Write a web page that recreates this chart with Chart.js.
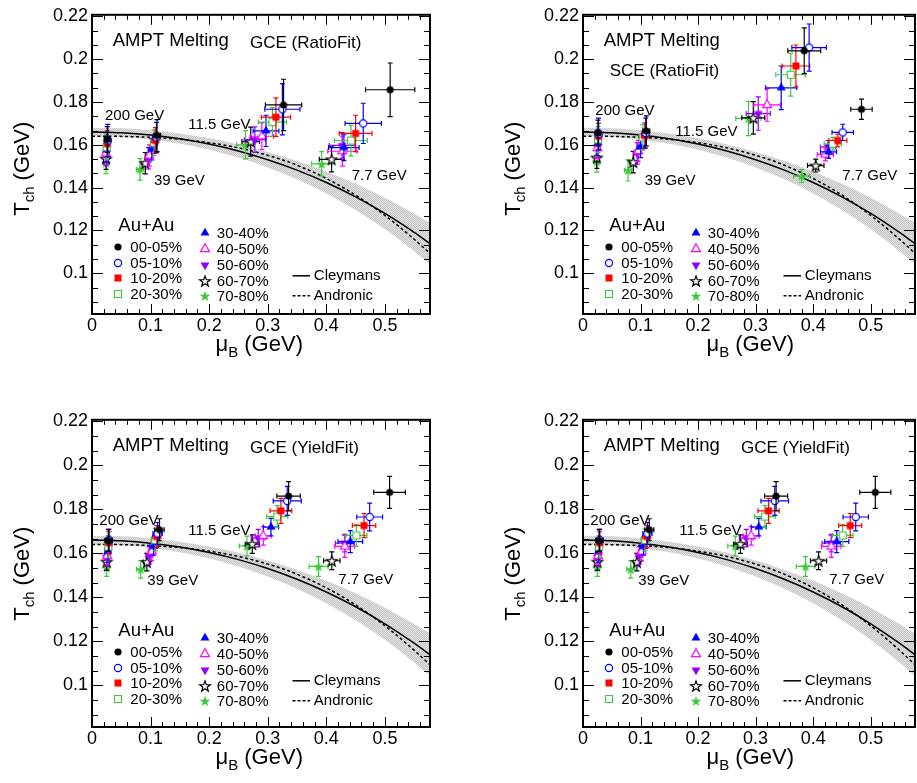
<!DOCTYPE html>
<html><head><meta charset="utf-8">
<script src="https://cdn.jsdelivr.net/npm/chart.js@4/dist/chart.umd.min.js"></script>
<style>
html,body{margin:0;padding:0;background:#fff;overflow:hidden;width:917px;height:783px;}
canvas{position:absolute;}
</style></head><body>
<canvas id="c0" width="458" height="392" style="left:0;top:0;width:458px;height:392px"></canvas>
<canvas id="c1" width="463" height="392" style="left:458px;top:0;width:463px;height:392px"></canvas>
<canvas id="c2" width="458" height="378" style="left:0;top:405px;width:458px;height:378px"></canvas>
<canvas id="c3" width="463" height="378" style="left:458px;top:405px;width:463px;height:378px"></canvas>
<script>
// ---------------- DATA ----------------
const energyLabels = ['200 GeV', '39 GeV', '11.5 GeV', '7.7 GeV'];
const centralityLabels = ['00-05%', '05-10%', '10-20%', '20-30%', '30-40%', '40-50%', '50-60%', '60-70%', '70-80%'];
const xTickValues = [0, 0.1, 0.2, 0.3, 0.4, 0.5];
const xTickLabels = ['0', '0.1', '0.2', '0.3', '0.4', '0.5'];
const yTickValues = [0.1, 0.12, 0.14, 0.16, 0.18, 0.2, 0.22];
const yTickLabels = ['0.1', '0.12', '0.14', '0.16', '0.18', '0.2', '0.22'];

// Cleymans curve and its uncertainty band
const cleymansMuB = [0, 0.05, 0.1, 0.15, 0.2, 0.25, 0.3, 0.35, 0.4, 0.45, 0.5, 0.55, 0.577];
const cleymansT   = [0.1660, 0.16565, 0.16460, 0.16285, 0.16036, 0.15711, 0.15306, 0.14818, 0.14240, 0.13568, 0.12794, 0.11910, 0.11385];
const bandUpperT  = [0.1680, 0.16769, 0.16677, 0.16522, 0.16303, 0.16019, 0.15667, 0.15245, 0.14750, 0.14178, 0.13525, 0.12786, 0.12351];
const bandLowerT  = [0.1640, 0.16361, 0.16244, 0.16048, 0.15768, 0.15402, 0.14945, 0.14390, 0.13731, 0.12958, 0.12063, 0.11034, 0.10420];
// Andronic curve
const andronicMuB = [0, 0.0224, 0.0691, 0.1072, 0.1494, 0.1939, 0.2463, 0.3038, 0.3376, 0.3646, 0.3798, 0.4069, 0.4340, 0.4558, 0.4797, 0.5064, 0.5239, 0.5362, 0.5559, 0.5697, 0.5770];
const andronicT   = [0.1640, 0.1640, 0.1638, 0.1634, 0.1626, 0.1612, 0.1588, 0.1548, 0.1518, 0.1488, 0.1470, 0.1433, 0.1392, 0.1355, 0.1311, 0.1257, 0.1219, 0.1191, 0.1145, 0.1111, 0.1093];

// rows: centralities; columns: 200, 39, 11.5, 7.7 GeV
// GCE (RatioFit)
const muB_GCE_Ratio = [
  [0.026, 0.111, 0.327, 0.509],
  [0.027, 0.110, 0.325, 0.463],
  [0.026, 0.108, 0.314, 0.450],
  [0.025, 0.106, 0.308, 0.442],
  [0.025, 0.102, 0.297, 0.430],
  [0.024, 0.098, 0.290, 0.4275],
  [0.024, 0.0965, 0.278, 0.427],
  [0.024, 0.091, 0.271, 0.409],
  [0.024, 0.082, 0.262, 0.392]];
const T_GCE_Ratio = [
  [0.1625, 0.1643, 0.1786, 0.1857],
  [0.1620, 0.1635, 0.1766, 0.1700],
  [0.1605, 0.1620, 0.1729, 0.1653],
  [0.1590, 0.1610, 0.1706, 0.1620],
  [0.1580, 0.1579, 0.1665, 0.1587],
  [0.1560, 0.1550, 0.1640, 0.1570],
  [0.1555, 0.1537, 0.1624, 0.1597],
  [0.1535, 0.1514, 0.1615, 0.1532],
  [0.1515, 0.1485, 0.1600, 0.1511]];
const muBErr_GCE_Ratio = [
  [0.005, 0.006, 0.031, 0.042],
  [0.005, 0.006, 0.030, 0.031],
  [0.004, 0.006, 0.025, 0.028],
  [0.004, 0.006, 0.024, 0.028],
  [0.004, 0.006, 0.022, 0.026],
  [0.004, 0.005, 0.020, 0.025],
  [0.004, 0.005, 0.018, 0.022],
  [0.004, 0.006, 0.015, 0.021],
  [0.004, 0.006, 0.015, 0.017]];
const TErr_GCE_Ratio = [
  [0.006, 0.0075, 0.012, 0.0125],
  [0.0075, 0.007, 0.012, 0.0094],
  [0.006, 0.006, 0.009, 0.0085],
  [0.006, 0.006, 0.0068, 0.0072],
  [0.006, 0.005, 0.0073, 0.006],
  [0.005, 0.005, 0.0062, 0.007],
  [0.005, 0.005, 0.006, 0.006],
  [0.005, 0.005, 0.0068, 0.0058],
  [0.005, 0.005, 0.0066, 0.0057]];

// SCE (RatioFit)
const muB_SCE_Ratio = [
  [0.026, 0.110, 0.3845, 0.484],
  [0.027, 0.109, 0.393, 0.4514],
  [0.027, 0.1074, 0.370, 0.4428],
  [0.026, 0.104, 0.361, 0.4342],
  [0.026, 0.100, 0.3445, 0.4268],
  [0.025, 0.096, 0.320, 0.4211],
  [0.025, 0.0943, 0.3046, 0.4257],
  [0.024, 0.0874, 0.296, 0.4045],
  [0.024, 0.0783, 0.2875, 0.380]];
const T_SCE_Ratio = [
  [0.1655, 0.1665, 0.2039, 0.1766],
  [0.1650, 0.1655, 0.2054, 0.1658],
  [0.1640, 0.1643, 0.1968, 0.1620],
  [0.1625, 0.1635, 0.1927, 0.1605],
  [0.1610, 0.1590, 0.1866, 0.1567],
  [0.1585, 0.1571, 0.1786, 0.1555],
  [0.1590, 0.1560, 0.1746, 0.1590],
  [0.1540, 0.1519, 0.1726, 0.1503],
  [0.1522, 0.1481, 0.1723, 0.1454]];
const muBErr_SCE_Ratio = [
  [0.005, 0.006, 0.0286, 0.0186],
  [0.005, 0.006, 0.030, 0.0186],
  [0.004, 0.006, 0.024, 0.0157],
  [0.004, 0.006, 0.026, 0.015],
  [0.004, 0.006, 0.027, 0.014],
  [0.004, 0.005, 0.023, 0.014],
  [0.004, 0.005, 0.021, 0.013],
  [0.004, 0.006, 0.020, 0.0143],
  [0.004, 0.006, 0.022, 0.014]];
const TErr_SCE_Ratio = [
  [0.006, 0.007, 0.0107, 0.0047],
  [0.0075, 0.007, 0.011, 0.0038],
  [0.006, 0.006, 0.0098, 0.003],
  [0.006, 0.006, 0.010, 0.003],
  [0.006, 0.005, 0.0102, 0.003],
  [0.005, 0.005, 0.0076, 0.003],
  [0.005, 0.005, 0.0078, 0.003],
  [0.005, 0.005, 0.0076, 0.003],
  [0.005, 0.005, 0.008, 0.003]];

// GCE (YieldFit)
const muB_GCE_Yield = [
  [0.028, 0.1152, 0.3356, 0.508],
  [0.029, 0.112, 0.3333, 0.474],
  [0.029, 0.1107, 0.3225, 0.4644],
  [0.028, 0.108, 0.3162, 0.4514],
  [0.027, 0.105, 0.3055, 0.441],
  [0.026, 0.102, 0.2924, 0.4315],
  [0.025, 0.098, 0.2838, 0.4315],
  [0.025, 0.0937, 0.2736, 0.4094],
  [0.025, 0.0830, 0.2646, 0.3867]];
const T_GCE_Yield = [
  [0.1658, 0.1707, 0.1860, 0.1877],
  [0.1660, 0.1690, 0.1838, 0.1765],
  [0.1648, 0.1676, 0.1793, 0.1726],
  [0.1630, 0.1661, 0.1767, 0.1681],
  [0.1608, 0.1631, 0.1719, 0.1653],
  [0.1588, 0.1608, 0.1679, 0.1631],
  [0.1582, 0.1590, 0.1669, 0.1646],
  [0.1562, 0.1560, 0.1642, 0.1566],
  [0.1535, 0.1527, 0.1633, 0.1540]];
const muBErr_GCE_Yield = [
  [0.006, 0.008, 0.020, 0.027],
  [0.006, 0.008, 0.024, 0.022],
  [0.005, 0.007, 0.0185, 0.020],
  [0.005, 0.007, 0.018, 0.018],
  [0.005, 0.006, 0.013, 0.021],
  [0.005, 0.006, 0.0135, 0.017],
  [0.004, 0.006, 0.012, 0.016],
  [0.004, 0.006, 0.012, 0.014],
  [0.004, 0.007, 0.013, 0.016]];
const TErr_GCE_Yield = [
  [0.005, 0.005, 0.0066, 0.0073],
  [0.005, 0.005, 0.0066, 0.0063],
  [0.005, 0.005, 0.0057, 0.0055],
  [0.005, 0.005, 0.005, 0.005],
  [0.005, 0.004, 0.004, 0.005],
  [0.004, 0.004, 0.0042, 0.005],
  [0.004, 0.004, 0.004, 0.004],
  [0.004, 0.004, 0.0042, 0.004],
  [0.004, 0.004, 0.0045, 0.0045]];

// ---------------- STYLE ----------------
const FONT = "'Liberation Sans', Arial, Helvetica, sans-serif";
Chart.defaults.font.family = FONT;
const X_MIN = 0, X_MAX = 0.577, Y_MIN = 0.081, Y_MAX = 0.2207;

const markerDefs = [
  {shape: 'circle', color: '#000000', filled: true},
  {shape: 'circle', color: '#0000ff', filled: false},
  {shape: 'square', color: '#ff0000', filled: true},
  {shape: 'square', color: '#3ec83e', filled: false},
  {shape: 'triUp', color: '#0000ff', filled: true},
  {shape: 'triUp', color: '#ff00ff', filled: false},
  {shape: 'triDown', color: '#9400ff', filled: true},
  {shape: 'star', color: '#000000', filled: false},
  {shape: 'star', color: '#3ec83e', filled: true}
];

function makeMarker(def) {
  const S = 16, c = document.createElement('canvas');
  c.width = S; c.height = S;
  const g = c.getContext('2d'), m = S / 2;
  g.beginPath();
  if (def.shape === 'circle') {
    g.arc(m, m, 3.6, 0, Math.PI * 2);
  } else if (def.shape === 'square') {
    g.rect(m - 3.5, m - 3.5, 7, 7);
  } else if (def.shape === 'triUp' || def.shape === 'triDown') {
    const r = 5.2, s = def.shape === 'triUp' ? 1 : -1;
    g.moveTo(m, m - s * r);
    g.lineTo(m + r * 0.866, m + s * r * 0.5);
    g.lineTo(m - r * 0.866, m + s * r * 0.5);
    g.closePath();
  } else {
    for (let i = 0; i < 10; i++) {
      const ang = -Math.PI / 2 + i * Math.PI / 5;
      const rr = (i % 2) ? 2.3 : 5.6;
      const px = m + rr * Math.cos(ang), py = m + 0.5 + rr * Math.sin(ang);
      if (i === 0) g.moveTo(px, py); else g.lineTo(px, py);
    }
    g.closePath();
  }
  if (def.filled) {
    g.fillStyle = def.color; g.fill();
  } else {
    g.fillStyle = '#ffffff'; g.fill();
    g.lineWidth = 1.2; g.strokeStyle = def.color; g.stroke();
  }
  return c;
}
const markers = markerDefs.map(makeMarker);

function makeBandPattern() {
  const c = document.createElement('canvas');
  c.width = 2; c.height = 2;
  const g = c.getContext('2d');
  g.fillStyle = '#e3e3e3'; g.fillRect(0, 0, 2, 2);
  g.fillStyle = '#c4c4c4'; g.fillRect(0, 0, 1, 1); g.fillRect(1, 1, 1, 1);
  return g.createPattern(c, 'repeat');
}

// ---------------- PLUGINS ----------------
const errorBarPlugin = {
  id: 'errbars',
  beforeDatasetDraw(chart, args) {
    const ds = chart.data.datasets[args.index];
    if (!ds.errColor) return;
    const ctx = chart.ctx, a = chart.chartArea, xs = chart.scales.x, ys = chart.scales.y;
    ctx.save();
    ctx.beginPath(); ctx.rect(a.left, a.top, a.right - a.left, a.bottom - a.top); ctx.clip();
    ctx.strokeStyle = ds.errColor; ctx.lineWidth = 1.2;
    const cap = 2.5;
    ctx.beginPath();
    ds.data.forEach(p => {
      const px = xs.getPixelForValue(p.x), py = ys.getPixelForValue(p.y);
      const x1 = xs.getPixelForValue(p.x - p.xe), x2 = xs.getPixelForValue(p.x + p.xe);
      const y1 = ys.getPixelForValue(p.y - p.ye), y2 = ys.getPixelForValue(p.y + p.ye);
      ctx.moveTo(x1, py); ctx.lineTo(x2, py);
      ctx.moveTo(px, y1); ctx.lineTo(px, y2);
      ctx.moveTo(x1, py - cap); ctx.lineTo(x1, py + cap);
      ctx.moveTo(x2, py - cap); ctx.lineTo(x2, py + cap);
      ctx.moveTo(px - cap, y1); ctx.lineTo(px + cap, y1);
      ctx.moveTo(px - cap, y2); ctx.lineTo(px + cap, y2);
    });
    ctx.stroke();
    ctx.restore();
  }
};

function makeDeco(p) {
  return {
    id: 'deco',
    afterDraw(chart) {
      const ctx = chart.ctx, a = chart.chartArea, xs = chart.scales.x, ys = chart.scales.y;
      ctx.save();
      // inner tick marks on all sides
      ctx.strokeStyle = '#000'; ctx.lineWidth = 1;
      ctx.beginPath();
      for (let i = 0; i * 0.02 <= X_MAX + 1e-9; i++) {
        const px = Math.round(xs.getPixelForValue(i * 0.02)) + 0.5;
        const L = (i % 5 === 0) ? 10 : 5;
        ctx.moveTo(px, a.bottom); ctx.lineTo(px, a.bottom - L);
        ctx.moveTo(px, a.top); ctx.lineTo(px, a.top + L);
      }
      const yStep = 0.02 / 3;
      for (let k = Math.ceil((Y_MIN - 0.1) / yStep - 1e-6); 0.1 + k * yStep <= Y_MAX + 1e-9; k++) {
        const py = Math.round(ys.getPixelForValue(0.1 + k * yStep)) + 0.5;
        const L = (k % 3 === 0) ? 11 : 6;
        ctx.moveTo(a.left, py); ctx.lineTo(a.left + L, py);
        ctx.moveTo(a.right, py); ctx.lineTo(a.right - L, py);
      }
      ctx.stroke();
      // frame
      ctx.lineWidth = 2;
      ctx.strokeRect(a.left, a.top, a.right - a.left, a.bottom - a.top);

      // texts
      ctx.fillStyle = '#000'; ctx.textAlign = 'left'; ctx.textBaseline = 'alphabetic';
      ctx.font = '18.5px ' + FONT;
      ctx.fillText('AMPT Melting', a.left + 20.7, a.top + 31.5);
      ctx.font = '17px ' + FONT;
      ctx.fillText(p.fitLabel, a.left + p.fitPos[0], a.top + p.fitPos[1]);
      ctx.font = '15px ' + FONT;
      energyLabels.forEach((t, j) => ctx.fillText(t, a.left + p.energyPos[j][0], a.top + p.energyPos[j][1]));

      // legend
      ctx.font = '18.5px ' + FONT;
      ctx.fillText('Au+Au', a.left + 26.3, a.top + 216);
      ctx.font = '15px ' + FONT; ctx.textBaseline = 'middle';
      const leftRows = [232, 248, 263.5, 279], rightRows = [218.5, 234.5, 250, 266, 281.5];
      centralityLabels.forEach((t, i) => {
        const left = i < 4;
        const ry = a.top + (left ? leftRows[i] : rightRows[i - 4]);
        const mx = a.left + (left ? 25.5 : 112.5);
        ctx.drawImage(markers[i], Math.round(mx - 8), Math.round(ry - 8));
        ctx.fillText(t, a.left + (left ? 38.3 : 124.8), ry + 1);
      });
      ctx.lineWidth = 1.5; ctx.strokeStyle = '#000';
      ctx.beginPath(); ctx.moveTo(a.left + 200.5, a.top + 261); ctx.lineTo(a.left + 218, a.top + 261); ctx.stroke();
      ctx.setLineDash([3, 2]);
      ctx.beginPath(); ctx.moveTo(a.left + 200.5, a.top + 281); ctx.lineTo(a.left + 218, a.top + 281); ctx.stroke();
      ctx.setLineDash([]);
      ctx.fillText('Cleymans', a.left + 221.8, a.top + 261);
      ctx.fillText('Andronic', a.left + 221.8, a.top + 281);

      // axis titles
      ctx.textBaseline = 'alphabetic';
      let x0 = a.left + 123.5, y0 = a.bottom + 37;
      ctx.font = '22px ' + FONT; ctx.fillText('\u03BC', x0, y0);
      let w = ctx.measureText('\u03BC').width;
      ctx.font = '15px ' + FONT; ctx.fillText('B', x0 + w, y0 + 6);
      w += ctx.measureText('B').width;
      ctx.font = '22px ' + FONT; ctx.fillText(' (GeV)', x0 + w, y0);

      ctx.save();
      ctx.translate(a.left - 63.5, a.top + 201);
      ctx.rotate(-Math.PI / 2);
      ctx.font = '22px ' + FONT; ctx.fillText('T', 0, 0);
      w = ctx.measureText('T').width;
      ctx.font = '15px ' + FONT; ctx.fillText('ch', w, 5);
      w += ctx.measureText('ch').width;
      ctx.font = '22px ' + FONT; ctx.fillText(' (GeV)', w, 0);
      ctx.restore();

      ctx.restore();
    }
  };
}

// ---------------- PANELS ----------------
const panels = [
  {id: 'c0', W: 458, H: 392, area: {l: 92, t: 6, r: 430, b: 314},
   fitLabel: 'GCE (RatioFit)', fitPos: [158, 33],
   energyPos: [[13, 105], [62, 170], [96.3, 114], [259.7, 165]],
   mu: muB_GCE_Ratio, T: T_GCE_Ratio, muErr: muBErr_GCE_Ratio, TErr: TErr_GCE_Ratio},
  {id: 'c1', W: 463, H: 392, area: {l: 125, t: 6, r: 463, b: 314},
   fitLabel: 'SCE (RatioFit)', fitPos: [26.7, 60.7],
   energyPos: [[12.3, 100], [61.7, 170], [92.3, 121.3], [259.3, 165]],
   mu: muB_SCE_Ratio, T: T_SCE_Ratio, muErr: muBErr_SCE_Ratio, TErr: TErr_SCE_Ratio},
  {id: 'c2', W: 458, H: 378, area: {l: 92, t: 14, r: 430, b: 322},
   fitLabel: 'GCE (YieldFit)', fitPos: [158, 32.7],
   energyPos: [[7.3, 105.3], [55.3, 165], [96.3, 115.3], [246.3, 164.3]],
   mu: muB_GCE_Yield, T: T_GCE_Yield, muErr: muBErr_GCE_Yield, TErr: TErr_GCE_Yield},
  {id: 'c3', W: 463, H: 378, area: {l: 125, t: 14, r: 463, b: 322},
   fitLabel: 'GCE (YieldFit)', fitPos: [158, 32.7],
   energyPos: [[7.3, 105.3], [55.3, 165], [96.3, 115.3], [246.3, 164.3]],
   mu: muB_GCE_Yield, T: T_GCE_Yield, muErr: muBErr_GCE_Yield, TErr: TErr_GCE_Yield}
];

panels.forEach(p => {
  const canvas = document.getElementById(p.id);
  const bandPattern = makeBandPattern();
  const pointSets = centralityLabels.map((lab, i) => ({
    label: lab,
    data: energyLabels.map((e, j) => ({x: p.mu[i][j], y: p.T[i][j], xe: p.muErr[i][j], ye: p.TErr[i][j]})),
    showLine: false,
    pointStyle: markers[i],
    pointRadius: 5,
    pointHoverRadius: 5,
    errColor: markerDefs[i].color,
    order: i
  }));
  const curveSets = [
    {label: 'band upper', data: cleymansMuB.map((x, k) => ({x: x, y: bandUpperT[k]})),
     showLine: true, pointRadius: 0, borderWidth: 0, borderColor: 'rgba(0,0,0,0)',
     backgroundColor: bandPattern, fill: '+1', cubicInterpolationMode: 'monotone', order: 100},
    {label: 'band lower', data: cleymansMuB.map((x, k) => ({x: x, y: bandLowerT[k]})),
     showLine: true, pointRadius: 0, borderWidth: 0, borderColor: 'rgba(0,0,0,0)',
     fill: false, cubicInterpolationMode: 'monotone', order: 99},
    {label: 'Cleymans', data: cleymansMuB.map((x, k) => ({x: x, y: cleymansT[k]})),
     showLine: true, pointRadius: 0, borderWidth: 1.5, borderColor: '#000',
     fill: false, cubicInterpolationMode: 'monotone', order: 50},
    {label: 'Andronic', data: andronicMuB.map((x, k) => ({x: x, y: andronicT[k]})),
     showLine: true, pointRadius: 0, borderWidth: 1.5, borderColor: '#000', borderDash: [3, 2.5],
     fill: false, cubicInterpolationMode: 'monotone', order: 51}
  ];
  new Chart(canvas, {
    type: 'line',
    data: {datasets: pointSets.concat(curveSets)},
    options: {
      responsive: false, animation: false, devicePixelRatio: 1,
      layout: {padding: {left: 0, top: p.area.t, right: p.W - p.area.r, bottom: 0}},
      plugins: {legend: {display: false}, tooltip: {enabled: false}},
      scales: {
        x: {type: 'linear', min: X_MIN, max: X_MAX,
            grid: {display: false, drawTicks: false, tickLength: 0}, border: {display: false},
            afterBuildTicks: s => { s.ticks = xTickValues.map(v => ({value: v})); },
            afterFit: s => { s.height = p.H - p.area.b; },
            ticks: {padding: 1, color: '#000', font: {size: 18, family: FONT}, maxRotation: 0, autoSkip: false,
                    callback: (v, i) => xTickLabels[i]}},
        y: {type: 'linear', min: Y_MIN, max: Y_MAX,
            grid: {display: false, drawTicks: false, tickLength: 0}, border: {display: false},
            afterBuildTicks: s => { s.ticks = yTickValues.map(v => ({value: v})); },
            afterFit: s => { s.width = p.area.l; },
            ticks: {padding: 4, color: '#000', font: {size: 18, family: FONT}, autoSkip: false,
                    callback: (v, i) => yTickLabels[i]}}
      }
    },
    plugins: [errorBarPlugin, makeDeco(p)]
  });
});
</script>
</body></html>
